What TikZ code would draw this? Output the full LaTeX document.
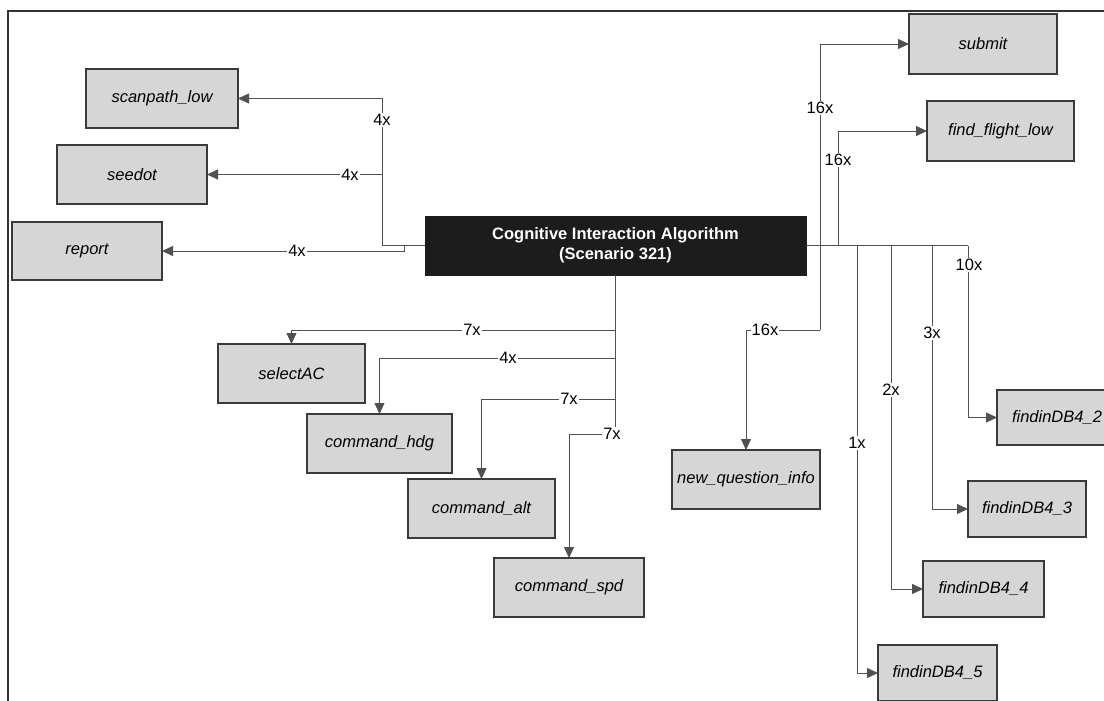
\documentclass[tikz,border=0pt]{standalone}
\usepackage{fontspec}
\setmainfont{Liberation Sans}
\usetikzlibrary{arrows.meta}
\definecolor{boxfill}{HTML}{D6D6D6}
\definecolor{boxline}{HTML}{3A3A3A}
\definecolor{wire}{HTML}{505050}
\definecolor{core}{HTML}{1C1C1C}
\begin{document}
\begin{tikzpicture}[x=1pt,y=-1pt,
  funcbox/.style={draw=boxline, line width=1.1pt, fill=boxfill, inner sep=0pt, outer sep=0pt,
    font=\fontsize{16.5}{19}\selectfont\itshape, minimum height=59pt},
  corebox/.style={fill=core, draw=core, inner sep=0pt, outer sep=0pt, text=white, align=center,
    font=\fontsize{16.5}{20}\selectfont\bfseries, minimum width=381pt, minimum height=59pt},
  conn/.style={draw=wire, line width=0.8pt},
  arr/.style={conn, -{Triangle[length=11pt,width=10pt]}},
  cnt/.style={fill=white, inner sep=1pt, font=\fontsize{16.5}{18}\selectfont},
  frameline/.style={draw=black!80, line width=1.4pt}]

\useasboundingbox (0,0) rectangle (1104,701);
\draw[frameline] (8,701) -- (8,11) -- (1104,11);

% central algorithm box
\node[corebox] (cia) at (615.5,245.5) {Cognitive Interaction Algorithm\\(Scenario 321)};

% left-hand targets
\node[funcbox, minimum width=152pt] (scan)   at (162,98.5)  {scanpath\_low};
\node[funcbox, minimum width=150pt] (seedot) at (132,174.5) {seedot};
\node[funcbox, minimum width=150pt, minimum height=58pt] (report) at (87,251) {report};

% lower targets
\node[funcbox, minimum width=147pt] (sel) at (291.5,373.5) {selectAC};
\node[funcbox, minimum width=145pt] (hdg) at (379.5,443.5) {command\_hdg};
\node[funcbox, minimum width=147pt] (alt) at (481.5,508.5) {command\_alt};
\node[funcbox, minimum width=150pt] (spd) at (569,587.5)   {command\_spd};

% right-hand targets
\node[funcbox, minimum width=148pt, minimum height=60pt] (submit) at (983,44)    {submit};
\node[funcbox, minimum width=147pt, minimum height=60pt] (ffl)    at (1000.5,131) {find\_flight\_low};
\node[funcbox, minimum width=148pt] (nqi) at (746,479.5) {new\_question\_info};
\node[funcbox, minimum width=120pt, minimum height=55pt] (db2) at (1057,417.5) {findinDB4\_2};
\node[funcbox, minimum width=118pt, minimum height=56pt] (db3) at (1027,509)   {findinDB4\_3};
\node[funcbox, minimum width=121pt, minimum height=56pt] (db4) at (983.5,589)  {findinDB4\_4};
\node[funcbox, minimum width=119pt, minimum height=56pt] (db5) at (937.5,673)  {findinDB4\_5};

% junction points on the trunk lines
\coordinate (jL)  at (382,245.5);
\coordinate (jR)  at (404,245.5);
\coordinate (jE)  at (968,245.5);
\coordinate (jS)  at (820,245.5);
\coordinate (jF)  at (838,245.5);
\coordinate (j1)  at (857,245.5);
\coordinate (j2)  at (891,245.5);
\coordinate (j3)  at (932,245.5);
\coordinate (jQ)  at (820,330);
\coordinate (b1)  at (615.5,330);
\coordinate (b2)  at (615.5,358);
\coordinate (b3)  at (615.5,399);
\coordinate (b4)  at (615.5,434);

% left fan
\draw[conn] (cia.west) -- (jL);
\draw[arr] (jL) |- (scan.east);
\draw[arr] (jL) |- (seedot.east);
\draw[arr] (jR) |- (report.east);

% right fan
\draw[conn] (cia.east) -- (jE);
\draw[arr] (jE) |- (db2.west);
\draw[arr] (j3) |- (db3.west);
\draw[arr] (j2) |- (db4.west);
\draw[arr] (j1) |- (db5.west);
\draw[arr] (jS) |- (submit.west);
\draw[arr] (jF) |- (ffl.west);
\draw[conn] (jS) -- (jQ);
\draw[arr] (jQ) -| (nqi.north);

% lower fan
\draw[conn] (cia.south) -- (b4);
\draw[arr] (b1) -| (sel.north);
\draw[arr] (b2) -| (hdg.north);
\draw[arr] (b3) -| (alt.north);
\draw[arr] (b4) -| (spd.north);

% call counts
\node[cnt] at (382,120)   {4x};
\node[cnt] at (350,174.5) {4x};
\node[cnt] at (297,251)   {4x};
\node[cnt] at (820,108)   {16x};
\node[cnt] at (838,160)   {16x};
\node[cnt] at (765,330)   {16x};
\node[cnt] at (857,443)   {1x};
\node[cnt] at (891,390)   {2x};
\node[cnt] at (932,333)   {3x};
\node[cnt] at (969,265)   {10x};
\node[cnt] at (472,330)   {7x};
\node[cnt] at (508,358)   {4x};
\node[cnt] at (569,399)   {7x};
\node[cnt] at (612,434)   {7x};
\end{tikzpicture}
\end{document}
